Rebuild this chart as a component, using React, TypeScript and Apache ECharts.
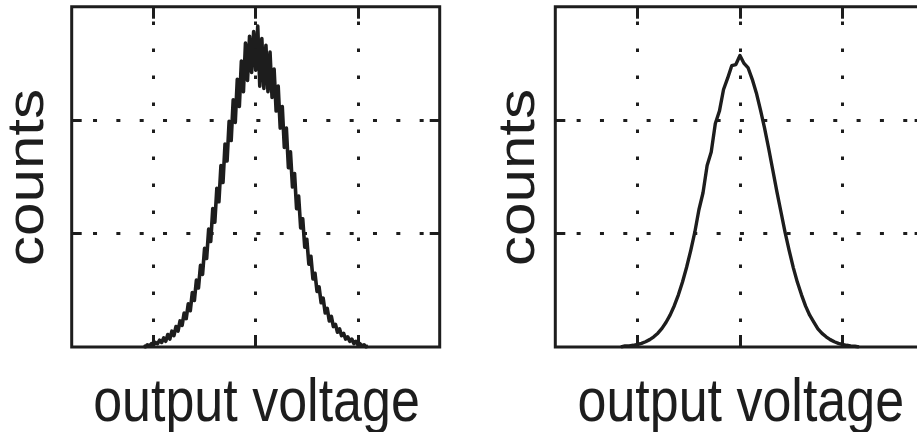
import React, { useEffect, useRef } from "react";
import * as echarts from "echarts";

// Axis ranges and the values where grid lines / ticks sit
const X_MIN = -1.8;
const X_MAX = 1.8;
const Y_MIN = 0;
const Y_MAX = 3;
const VOLTAGE_TICKS = [-1, 0, 1];
const COUNT_TICKS = [1, 2];

const X_TITLE = "output voltage";
const Y_TITLE = "counts";

// Noisy histogram (left panel): bin centres start at -1.10, spaced 0.02
const LEFT_BIN_START = -1.1;
const LEFT_BIN_STEP = 0.02;
const leftCounts = [
  0.01, 0.0, 0.02, 0.01, 0.03, 0.02, 0.04, 0.03, 0.06, 0.04,
  0.08, 0.05, 0.11, 0.07, 0.14, 0.1, 0.18, 0.14, 0.23, 0.19,
  0.3, 0.25, 0.38, 0.32, 0.48, 0.41, 0.59, 0.52, 0.72, 0.64,
  0.87, 0.78, 1.04, 0.93, 1.22, 1.1, 1.4, 1.28, 1.6, 1.45,
  1.79, 1.64, 1.99, 1.82, 2.18, 1.98, 2.36, 2.12, 2.52, 2.25,
  2.68, 2.35, 2.74, 2.42, 2.78, 2.44, 2.83, 2.3, 2.72, 2.28,
  2.66, 2.25, 2.6, 2.2, 2.45, 2.08, 2.3, 1.93, 2.12, 1.76,
  1.93, 1.58, 1.72, 1.41, 1.53, 1.22, 1.33, 1.05, 1.13, 0.88,
  0.95, 0.73, 0.8, 0.6, 0.65, 0.49, 0.53, 0.39, 0.43, 0.3,
  0.34, 0.23, 0.27, 0.18, 0.2, 0.13, 0.16, 0.1, 0.12, 0.07,
  0.09, 0.05, 0.07, 0.03, 0.05, 0.02, 0.03, 0.01, 0.02, 0.0,
  0.01,
];

// Smooth histogram (right panel): bin centres start at -1.16, spaced 0.04
const RIGHT_BIN_START = -1.16;
const RIGHT_BIN_STEP = 0.04;
const rightCounts = [
  0.0, 0.01, 0.01, 0.015, 0.022, 0.032, 0.046, 0.065, 0.09, 0.122,
  0.164, 0.218, 0.283, 0.364, 0.46, 0.573, 0.703, 0.85, 1.012, 1.21,
  1.36, 1.6, 1.72, 1.97, 2.08, 2.27, 2.37, 2.48, 2.49, 2.57,
  2.5, 2.46, 2.36, 2.24, 2.09, 1.93, 1.75, 1.56, 1.37, 1.19,
  1.01, 0.85, 0.7, 0.57, 0.46, 0.36, 0.28, 0.22, 0.16, 0.12,
  0.09, 0.065, 0.046, 0.032, 0.022, 0.015, 0.01, 0.007, 0.0,
];

const INK = "#1d1d1d";
const FONT = "'Liberation Sans', Arial, Helvetica, sans-serif";

const toPoints = (start: number, step: number, counts: number[]) =>
  counts.map((c, i) => [Number((start + i * step).toFixed(4)), c]);

// Dotted grid lines, drawn from the axes' own scales
function gridLines() {
  const vertical = VOLTAGE_TICKS.map((v) => [
    {
      coord: [v, Y_MIN],
      lineStyle: { type: [3.5, 23.5], dashOffset: 1.75, width: 3, color: INK },
    },
    { coord: [v, Y_MAX] },
  ]);
  const horizontal = COUNT_TICKS.map((c) => [
    {
      coord: [X_MIN, c],
      lineStyle: { type: [4, 19.33], dashOffset: 2, width: 3, color: INK },
    },
    { coord: [X_MAX, c] },
  ]);
  return {
    silent: true,
    symbol: ["none", "none"],
    label: { show: false },
    emphasis: { disabled: true },
    animation: false,
    data: [...vertical, ...horizontal],
  };
}

const xAxisFor = (gridIndex: number, position: string) => ({
  type: "value",
  gridIndex,
  position,
  min: X_MIN,
  max: X_MAX,
  axisLine: { show: false, onZero: false },
  axisLabel: { show: false },
  splitLine: { show: false },
  axisTick: {
    show: true,
    inside: true,
    length: 12,
    customValues: VOLTAGE_TICKS,
    lineStyle: { color: INK, width: 3 },
  },
});

const yAxisFor = (gridIndex: number, position: string) => ({
  type: "value",
  gridIndex,
  position,
  min: Y_MIN,
  max: Y_MAX,
  interval: 1,
  axisLine: { show: false, onZero: false },
  axisLabel: { show: false },
  splitLine: { show: false },
  axisTick: {
    show: true,
    inside: true,
    length: 10,
    customValues: COUNT_TICKS,
    lineStyle: { color: INK, width: 3 },
  },
});

const panelGrid = (left: number, width: number) => ({
  left,
  top: 6.7,
  width,
  height: 340.3,
  show: true,
  borderWidth: 3,
  borderColor: INK,
  backgroundColor: "transparent",
  outerBoundsMode: "none",
});

const STRETCH = 1.157;

const xTitle = (cx: number) => ({
  type: "text",
  x: cx,
  y: 400.4,
  scaleY: STRETCH,
  silent: true,
  style: {
    text: X_TITLE,
    fontSize: 52,
    fontFamily: FONT,
    fill: INK,
    textAlign: "center",
    textVerticalAlign: "middle",
  },
});

const yTitle = (cx: number) => ({
  type: "text",
  x: cx,
  y: 177.5,
  rotation: Math.PI / 2,
  scaleX: STRETCH,
  silent: true,
  style: {
    text: Y_TITLE,
    fontSize: 52,
    fontFamily: FONT,
    fill: INK,
    textAlign: "center",
    textVerticalAlign: "middle",
  },
});

export default function App() {
  const ref = useRef<HTMLDivElement>(null);

  useEffect(() => {
    if (!ref.current) return;
    const chart = echarts.init(ref.current, undefined, { renderer: "svg" });
    chart.setOption({
      animation: false,
      backgroundColor: "#ffffff",
      grid: [panelGrid(71.7, 368), panelGrid(555.3, 369.3)],
      xAxis: [
        xAxisFor(0, "bottom"),
        xAxisFor(0, "top"),
        xAxisFor(1, "bottom"),
        xAxisFor(1, "top"),
      ],
      yAxis: [
        yAxisFor(0, "left"),
        yAxisFor(0, "right"),
        yAxisFor(1, "left"),
        yAxisFor(1, "right"),
      ],
      series: [
        {
          type: "line",
          xAxisIndex: 0,
          yAxisIndex: 0,
          data: toPoints(LEFT_BIN_START, LEFT_BIN_STEP, leftCounts),
          showSymbol: false,
          symbol: "none",
          lineStyle: { color: INK, width: 3.6, join: "round" },
          emphasis: { disabled: true },
          markLine: gridLines(),
        },
        {
          type: "line",
          xAxisIndex: 2,
          yAxisIndex: 2,
          data: toPoints(RIGHT_BIN_START, RIGHT_BIN_STEP, rightCounts),
          showSymbol: false,
          symbol: "none",
          lineStyle: { color: INK, width: 3.4, join: "round" },
          emphasis: { disabled: true },
          markLine: gridLines(),
        },
      ],
      graphic: [xTitle(256.5), yTitle(25.3), xTitle(740.8), yTitle(516)],
    });
    return () => chart.dispose();
  }, []);

  return (
    <div
      style={{
        position: "fixed",
        left: 0,
        top: 0,
        width: 917,
        height: 432,
        overflow: "hidden",
        background: "#fff",
      }}
    >
      <div ref={ref} style={{ width: 940, height: 432 }} />
    </div>
  );
}
